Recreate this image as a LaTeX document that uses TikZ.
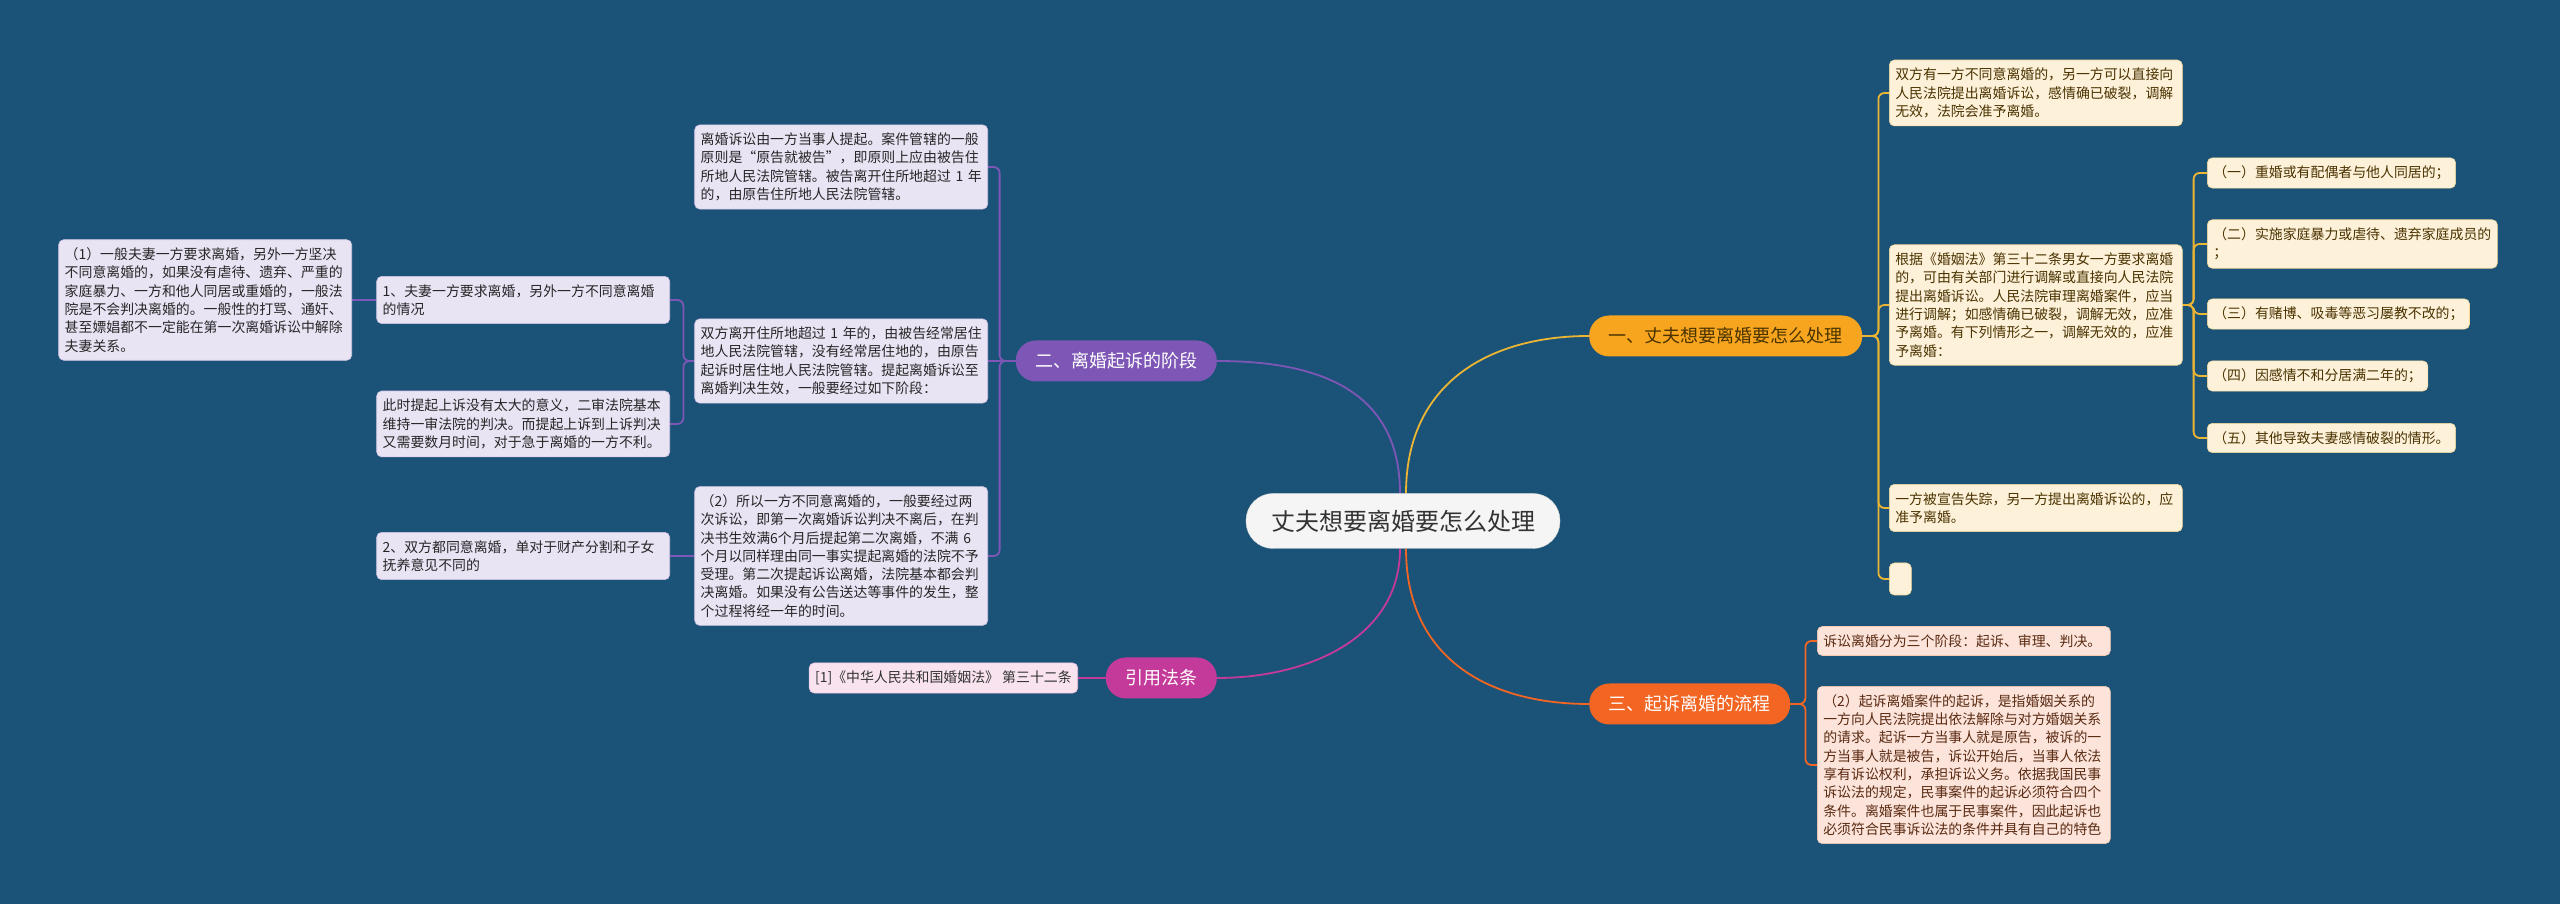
\documentclass[tikz,border=0pt]{standalone}
\usepackage{fontspec}
\setmainfont{Noto Sans CJK SC}
\usetikzlibrary{positioning,backgrounds}
\definecolor{bgblue}{HTML}{1B5378}
\definecolor{purp}{HTML}{7E57B6}
\definecolor{purpleaf}{HTML}{E9E4F4}
\definecolor{gold}{HTML}{F7A51E}
\definecolor{goldline}{HTML}{EDB534}
\definecolor{goldleaf}{HTML}{FEF1DA}
\definecolor{goldtext}{HTML}{4A3300}
\definecolor{rust}{HTML}{F26522}
\definecolor{rustleaf}{HTML}{FCE4DA}
\definecolor{rusttext}{HTML}{5A2A12}
\definecolor{plum}{HTML}{C43A9A}
\definecolor{plumleaf}{HTML}{F8E3EF}
\newcommand\leaffont{\fontsize{13.9pt}{18.3pt}\selectfont}
\newcommand\branchfont{\fontsize{18pt}{22pt}\selectfont}
\newcommand\rootfont{\fontsize{24pt}{28pt}\selectfont}
\tikzset {
  every node/.style={font=\leaffont},
  leaf/.style={rounded corners=5pt, align=left, inner xsep=6pt, inner ysep=8pt, line width=.6pt},
  wide/.style={leaf, text width=281pt},
  pleaf/.style={fill=purpleaf, draw=purp!35, text=black!85},
  oleaf/.style={fill=goldleaf, draw=goldline!50, text=goldtext},
  rleaf/.style={fill=rustleaf, draw=rust!35, text=rusttext},
  mleaf/.style={fill=plumleaf, draw=plum!35, text=black!80},
  branch/.style={rounded corners=20pt, minimum height=41pt, inner xsep=19.5pt, font=\branchfont},
  root/.style={fill=black!4, draw=black!15, rounded corners=27pt, minimum height=55pt, inner xsep=25pt, text=black!80, font=\rootfont},
  link/.style={line width=1.8pt, rounded corners=6pt},
}

\begin{document}
\begin{tikzpicture}[x=1pt,y=1pt]
\useasboundingbox (0,0) rectangle (2560,904);
\node[root] (root) at (1403,383) {丈夫想要离婚要怎么处理};
\node[branch, fill=gold, text=goldtext, anchor=west] (b1) at (1589,568) {一、丈夫想要离婚要怎么处理};
\node[branch, fill=purp, text=white, anchor=east] (b2) at (1217,543) {二、离婚起诉的阶段};
\node[branch, fill=rust, text=white, anchor=west] (b3) at (1589,200) {三、起诉离婚的流程};
\node[branch, fill=plum, text=white, anchor=east] (b4) at (1217,226) {引用法条};

\node[wide, pleaf, anchor=east] (p1) at (988,737) {离婚诉讼由一方当事人提起。案件管辖的一般\\原则是“原告就被告”，即原则上应由被告住\\所地人民法院管辖。被告离开住所地超过~1~年\\的，由原告住所地人民法院管辖。};
\node[wide, pleaf, anchor=east] (p2) at (988,543) {双方离开住所地超过~1~年的，由被告经常居住\\地人民法院管辖，没有经常居住地的，由原告\\起诉时居住地人民法院管辖。提起离婚诉讼至\\离婚判决生效，一般要经过如下阶段：};
\node[wide, pleaf, anchor=east] (p3) at (988,348) {（2）所以一方不同意离婚的，一般要经过两\\次诉讼，即第一次离婚诉讼判决不离后，在判\\决书生效满6个月后提起第二次离婚，不满~6\\个月以同样理由同一事实提起离婚的法院不予\\受理。第二次提起诉讼离婚，法院基本都会判\\决离婚。如果没有公告送达等事件的发生，整\\个过程将经一年的时间。};
\node[wide, pleaf, anchor=east] (p21) at (670,604) {1、夫妻一方要求离婚，另外一方不同意离婚\\的情况};
\node[wide, pleaf, anchor=east] (p22) at (670,480) {此时提起上诉没有太大的意义，二审法院基本\\维持一审法院的判决。而提起上诉到上诉判决\\又需要数月时间，对于急于离婚的一方不利。};
\node[wide, pleaf, anchor=east] (p211) at (352,604) {（1）一般夫妻一方要求离婚，另外一方坚决\\不同意离婚的，如果没有虐待、遗弃、严重的\\家庭暴力、一方和他人同居或重婚的，一般法\\院是不会判决离婚的。一般性的打骂、通奸、\\甚至嫖娼都不一定能在第一次离婚诉讼中解除\\夫妻关系。};
\node[wide, pleaf, anchor=east] (p31) at (670,348) {2、双方都同意离婚，单对于财产分割和子女\\抚养意见不同的};
\node[leaf, mleaf, anchor=east] (b4a) at (1078,226) {[1]《中华人民共和国婚姻法》 第三十二条};

\node[wide, oleaf, anchor=west] (o1) at (1889,811) {双方有一方不同意离婚的，另一方可以直接向\\人民法院提出离婚诉讼，感情确已破裂，调解\\无效，法院会准予离婚。};
\node[wide, oleaf, anchor=west] (o2) at (1889,599) {根据《婚姻法》第三十二条男女一方要求离婚\\的，可由有关部门进行调解或直接向人民法院\\提出离婚诉讼。人民法院审理离婚案件，应当\\进行调解；如感情确已破裂，调解无效，应准\\予离婚。有下列情形之一，调解无效的，应准\\予离婚：};
\node[wide, oleaf, anchor=west] (o3) at (1889,396) {一方被宣告失踪，另一方提出离婚诉讼的，应\\准予离婚。};
\node[leaf, oleaf, anchor=west, minimum width=22pt, minimum height=32pt] (o4) at (1889,325) {};
\node[leaf, oleaf, anchor=west] (o21) at (2207,731) {（一）重婚或有配偶者与他人同居的；};
\node[leaf, oleaf, anchor=west] (o22) at (2207,660) {（二）实施家庭暴力或虐待、遗弃家庭成员的\\；};
\node[leaf, oleaf, anchor=west] (o23) at (2207,590) {（三）有赌博、吸毒等恶习屡教不改的；};
\node[leaf, oleaf, anchor=west] (o24) at (2207,528) {（四）因感情不和分居满二年的；};
\node[leaf, oleaf, anchor=west] (o25) at (2207,466) {（五）其他导致夫妻感情破裂的情形。};

\node[wide, rleaf, anchor=west] (r1) at (1817,263) {诉讼离婚分为三个阶段：起诉、审理、判决。};
\node[wide, rleaf, anchor=west] (r2) at (1817,139) {（2）起诉离婚案件的起诉，是指婚姻关系的\\一方向人民法院提出依法解除与对方婚姻关系\\的请求。起诉一方当事人就是原告，被诉的一\\方当事人就是被告，诉讼开始后，当事人依法\\享有诉讼权利，承担诉讼义务。依据我国民事\\诉讼法的规定，民事案件的起诉必须符合四个\\条件。离婚案件也属于民事案件，因此起诉也\\必须符合民事诉讼法的条件并具有自己的特色};

\begin{scope}[on background layer]
\fill[bgblue] (0,0) rectangle (2560,904);
\draw[link, purp] ([xshift=-3pt]root.north) .. controls +(0,110) and +(90,0) .. (b2.east);
\draw[link, goldline] ([xshift=3pt]root.north) .. controls +(0,110) and +(-100,0) .. (b1.west);
\draw[link, plum] ([xshift=-3pt]root.south) .. controls +(0,-90) and +(90,0) .. (b4.east);
\draw[link, rust] ([xshift=3pt]root.south) .. controls +(0,-110) and +(-100,0) .. (b3.west);
\draw[link, purp] (b2.west) -- (p2.east);
\foreach \n in {p1,p3} \draw[link, purp] (b2.west) -- ++(-16,0) |- (\n.east);
\foreach \n in {p21,p22} \draw[link, purp] (p2.west) -- ++(-11,0) |- (\n.east);
\draw[link, purp] (p21.west) -- (p211.east);
\draw[link, purp] (p3.west) -- (p31.east);
\draw[link, plum] (b4.west) -- (b4a.east);
\foreach \n in {o1,o2,o3,o4} \draw[link, goldline] (b1.east) -- ++(16,0) |- (\n.west);
\foreach \n in {o21,o22,o23,o24,o25} \draw[link, goldline] (o2.east) -- ++(11,0) |- (\n.west);
\foreach \n in {r1,r2} \draw[link, rust] (b3.east) -- ++(15,0) |- (\n.west);
\end{scope}
\end{tikzpicture}
\end{document}
